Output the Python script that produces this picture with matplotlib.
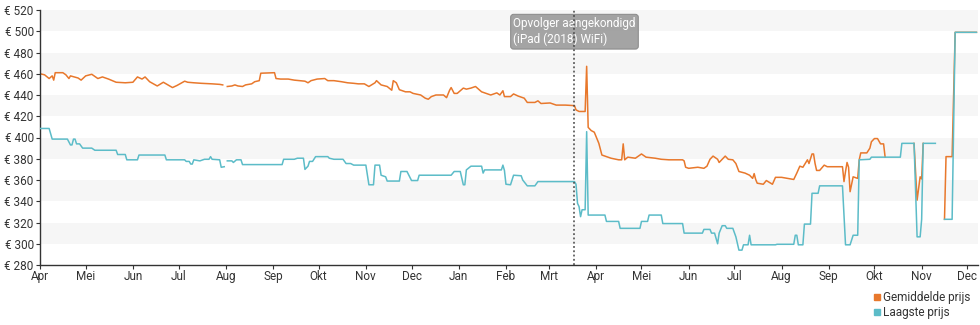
import numpy as np
import pandas as pd
import matplotlib
matplotlib.use("Agg")
import matplotlib.pyplot as plt
import matplotlib.dates as mdates
from matplotlib.lines import Line2D

plt.rcParams['font.family'] = ['Roboto', 'DejaVu Sans']

# gemiddelde prijs (oranje)
avg_dates = [
    "2017-04-01", "2017-04-04", "2017-04-07", "2017-04-09", "2017-04-10", "2017-04-11", "2017-04-16", "2017-04-18",
    "2017-04-20", "2017-04-21", "2017-04-26", "2017-04-28", "2017-05-01", "2017-05-05", "2017-05-09", "2017-05-12",
    "2017-05-16", "2017-05-21", "2017-05-27", "2017-06-01", "2017-06-04", "2017-06-07", "2017-06-09", "2017-06-12",
    "2017-06-17", "2017-06-21", "2017-06-24", "2017-06-27", "2017-06-30", "2017-07-05", "2017-07-07", "2017-07-11",
    "2017-07-16", "2017-07-23", "2017-07-28", "2017-07-30", "2017-08-01", "2017-08-02", "2017-08-05", "2017-08-07",
    "2017-08-09", "2017-08-12", "2017-08-14", "2017-08-18", "2017-08-20", "2017-08-23", "2017-08-24", "2017-09-02",
    "2017-09-03", "2017-09-06", "2017-09-11", "2017-09-15", "2017-09-22", "2017-09-24", "2017-09-26", "2017-09-30",
    "2017-10-05", "2017-10-07", "2017-10-11", "2017-10-16", "2017-10-20", "2017-10-24", "2017-10-27", "2017-10-31",
    "2017-11-03", "2017-11-07", "2017-11-08", "2017-11-11", "2017-11-15", "2017-11-18", "2017-11-19", "2017-11-21",
    "2017-11-23", "2017-11-27", "2017-11-30", "2017-12-02", "2017-12-07", "2017-12-10", "2017-12-12", "2017-12-14",
    "2017-12-17", "2017-12-22", "2017-12-24", "2017-12-26", "2017-12-27", "2017-12-29", "2017-12-31", "2018-01-04",
    "2018-01-06", "2018-01-09", "2018-01-12", "2018-01-16", "2018-01-19", "2018-01-22", "2018-01-26", "2018-01-28",
    "2018-01-30", "2018-01-31", "2018-02-04", "2018-02-06", "2018-02-09", "2018-02-13", "2018-02-15", "2018-02-20",
    "2018-02-22", "2018-02-24", "2018-03-02", "2018-03-06", "2018-03-12", "2018-03-18", "2018-03-19", "2018-03-21",
    "2018-03-25", "2018-03-26", "2018-03-27", "2018-03-29", "2018-03-31", "2018-04-03", "2018-04-05", "2018-04-08",
    "2018-04-11", "2018-04-16", "2018-04-18", "2018-04-19", "2018-04-20", "2018-04-22", "2018-04-27", "2018-05-01",
    "2018-05-04", "2018-05-10", "2018-05-14", "2018-05-19", "2018-05-28", "2018-05-29", "2018-05-30", "2018-06-01",
    "2018-06-07", "2018-06-11", "2018-06-13", "2018-06-15", "2018-06-17", "2018-06-20", "2018-06-21", "2018-06-23",
    "2018-06-25", "2018-06-27", "2018-06-30", "2018-07-02", "2018-07-04", "2018-07-08", "2018-07-11", "2018-07-13",
    "2018-07-14", "2018-07-15", "2018-07-16", "2018-07-20", "2018-07-22", "2018-07-26", "2018-07-28", "2018-08-01",
    "2018-08-09", "2018-08-11", "2018-08-13", "2018-08-15", "2018-08-18", "2018-08-19", "2018-08-21", "2018-08-22",
    "2018-08-23", "2018-08-24", "2018-08-26", "2018-08-29", "2018-08-31", "2018-09-10", "2018-09-11", "2018-09-12",
    "2018-09-13", "2018-09-14", "2018-09-15", "2018-09-17", "2018-09-20", "2018-09-21", "2018-09-22", "2018-09-26",
    "2018-09-28", "2018-09-29", "2018-10-01", "2018-10-03", "2018-10-05", "2018-10-07", "2018-10-08", "2018-10-15",
    "2018-10-27", "2018-10-29", "2018-10-30", "2018-10-31", "2018-11-01", "2018-11-02", "2018-11-06",
    "2018-11-16", "2018-11-17", "2018-11-21", "2018-11-23", "2018-12-07",
]
avg_prices = [
    460, 459, 455.5, 458, 454, 461, 461, 459,
    455.5, 458, 456, 454, 458, 459.5, 455.5, 457,
    455, 452, 451.5, 452, 457, 455, 457, 452.5,
    448.5, 452, 449.5, 447, 449, 453, 452, 451.5,
    451, 450.5, 450, 449.5, None, 448, 448.5, 449.5,
    448.5, 448, 449.5, 450.5, 452.5, 453.5, 460.5, 461,
    455.5, 455, 455, 454, 453, 451.5, 453.5, 455,
    455.5, 453.5, 453.5, 452.5, 451.5, 451, 450.5, 450.5,
    448, 451.5, 453.5, 449.5, 448, 444.5, 453.5, 451.5,
    445, 443, 443, 441.5, 440, 437, 436, 438.5,
    440, 440, 437.5, 444.5, 447, 441.5, 441.5, 446.5,
    445.5, 446.5, 448, 443, 441.5, 440, 442, 440,
    444, 438.5, 438.5, 441, 439, 437, 433, 433,
    434.5, 432, 432.5, 430.5, 430.5, 430, 426, 424.5,
    424.5, 467, 409.5, 406.5, 405, 394.5, 383.5, 382,
    380.5, 379, 379, 394, 379, 381.5, 380.5, 384.5,
    381.5, 380.5, 379.5, 379, 379, 378, 372, 371,
    372, 371, 373, 379.5, 382.5, 379.5, 376.5, 379.5,
    382.5, 379.5, 379, 375.5, 368, 366.5, 364.5, 361.5,
    366, 360.5, 357, 356, 359.5, 356, 362.5, 362.5,
    360.5, 366.5, 373, 372, 379, 375.5, 384.5, 384.5,
    375.5, 369, 369, 374, 372.5, 372.5, 358.5, 368,
    376.5, 372, 349, 363, 361.5, 379, 385.5, 385.5,
    390, 396, 399, 399, 394, 394, 381.5, None,
    394.5, 341, 352, 363, 361, 394.5, None,
    323, 382, 382, 499, 499,
]

# laagste prijs (blauw)
low_dates = [
    "2017-04-01", "2017-04-07", "2017-04-09", "2017-04-19", "2017-04-21", "2017-04-22", "2017-04-23", "2017-04-24",
    "2017-04-25", "2017-04-27", "2017-04-28", "2017-04-29", "2017-05-05", "2017-05-07", "2017-05-21", "2017-05-22",
    "2017-05-27", "2017-05-28", "2017-06-04", "2017-06-05", "2017-06-22", "2017-06-23", "2017-07-05", "2017-07-06",
    "2017-07-08", "2017-07-09", "2017-07-10", "2017-07-11", "2017-07-15", "2017-07-18", "2017-07-21", "2017-07-22",
    "2017-07-23", "2017-07-28", "2017-07-29", "2017-07-31", "2017-08-01", "2017-08-02", "2017-08-05", "2017-08-06",
    "2017-08-08", "2017-08-11", "2017-08-12", "2017-09-07", "2017-09-08", "2017-09-15", "2017-09-17", "2017-09-21",
    "2017-09-22", "2017-09-24", "2017-09-25", "2017-09-27", "2017-09-29", "2017-10-07", "2017-10-08", "2017-10-11",
    "2017-10-17", "2017-10-19", "2017-10-22", "2017-10-24", "2017-11-01", "2017-11-03", "2017-11-06", "2017-11-07",
    "2017-11-10", "2017-11-11", "2017-11-14", "2017-11-15", "2017-11-23", "2017-11-24", "2017-11-28", "2017-12-01",
    "2017-12-05", "2017-12-06", "2017-12-27", "2017-12-29", "2018-01-02", "2018-01-04", "2018-01-05", "2018-01-06",
    "2018-01-09", "2018-01-16", "2018-01-17", "2018-01-18", "2018-01-29", "2018-01-30", "2018-01-31", "2018-02-01",
    "2018-02-04", "2018-02-06", "2018-02-11", "2018-02-12", "2018-02-15", "2018-02-20", "2018-02-22", "2018-03-18",
    "2018-03-19", "2018-03-20", "2018-03-21", "2018-03-22", "2018-03-23", "2018-03-25", "2018-03-26", "2018-03-27",
    "2018-04-07", "2018-04-08", "2018-04-16", "2018-04-17", "2018-04-30", "2018-05-01", "2018-05-05", "2018-05-06",
    "2018-05-14", "2018-05-15", "2018-05-28", "2018-05-29", "2018-06-10", "2018-06-11", "2018-06-15", "2018-06-16",
    "2018-06-18", "2018-06-20", "2018-06-21", "2018-06-23", "2018-06-25", "2018-06-26", "2018-06-30", "2018-07-02",
    "2018-07-04", "2018-07-06", "2018-07-07", "2018-07-10", "2018-07-11", "2018-07-12", "2018-07-28", "2018-07-29",
    "2018-08-09", "2018-08-10", "2018-08-11", "2018-08-12", "2018-08-15", "2018-08-16", "2018-08-20", "2018-08-21",
    "2018-08-25", "2018-08-26", "2018-09-10", "2018-09-12", "2018-09-15", "2018-09-17", "2018-09-20", "2018-09-21",
    "2018-09-28", "2018-09-29", "2018-10-18", "2018-10-19", "2018-10-27", "2018-10-29", "2018-10-31", "2018-11-01",
    "2018-11-02", "2018-11-10", "2018-11-13", "2018-11-16", "2018-11-21", "2018-11-23", "2018-12-07",
]
low_prices = [
    408.5, 408.5, 398.5, 398.5, 393, 393, 398.5, 398.5,
    394, 394, 392, 390, 390, 388, 388, 384,
    384, 379, 379, 383.5, 383.5, 379, 379, 377.5,
    377.5, 375, 375, 379, 378, 379.5, 379.5, 382,
    379.5, 379, 372, 372.5, None, 378, 378, 376.5,
    379, 379, 374.5, 374.5, 379.5, 379.5, 380.5, 380.5,
    370, 373, 377.5, 377.5, 382, 382, 380.5, 379.5,
    379.5, 375.5, 375.5, 374, 374, 355.5, 355.5, 374,
    374, 364.5, 363, 359, 359, 368, 368, 359.5,
    359.5, 364.5, 364.5, 368, 368, 355.5, 355.5, 369.5,
    373, 373, 366.5, 369.5, 369.5, 374, 369, 356,
    355.5, 364.5, 364, 360, 354.5, 354.5, 358.5, 358.5,
    356, 338, 335, 325.5, 332, 332, 405.5, 327,
    327, 321, 321, 314.5, 314.5, 321, 321, 327,
    327, 319, 319, 310, 310, 313.5, 313.5, 310,
    310, 300, 310, 317, 317, 314.5, 314.5, 306.5,
    294, 294, 299, 299, 308, 299, 299, 299.5,
    299.5, 308, 308, 299, 299, 318.5, 318.5, 347.5,
    347.5, 354.5, 354.5, 299, 299, 308, 308, 379,
    379.5, 381.5, 381.5, 394.5, 394.5, 306.5, 306.5, 323,
    394.5, 394.5, None, 323, 323, 499, 499,
]

month_names = ["Jan", "Feb", "Mrt", "Apr", "Mei", "Jun", "Jul", "Aug", "Sep", "Okt", "Nov", "Dec"]
event_date = "2018-03-18"
event_label = "Opvolger aangekondigd\n(iPad (2018) WiFi)"
series_labels = ["Gemiddelde prijs", "Laagste prijs"]

orange = "#e8782c"
teal = "#5cbcc8"
text_col = "#333333"

fig = plt.figure(figsize=(9.8, 3.25), dpi=100)
ax = fig.add_axes([40 / 980, 60 / 325, 938 / 980, 255 / 325])

# grijze banden
for lo in range(300, 520, 40):
    ax.axhspan(lo, lo + 20, color="#f6f6f6", lw=0, zorder=0)

ax.plot(pd.to_datetime(avg_dates), np.array(avg_prices, dtype=float), color=orange, lw=1.1, zorder=2)
ax.plot(pd.to_datetime(low_dates), np.array(low_prices, dtype=float), color=teal, lw=1.1, zorder=3)

ev = pd.Timestamp(event_date)
ax.axvline(ev, color="#444444", ls=(0, (1.2, 1.6)), lw=1.1, zorder=6)
ax.annotate(event_label, xy=(ev, 1), xycoords=("data", "axes fraction"),
            xytext=(0, -5), textcoords="offset points", ha="center", va="top", multialignment="left",
            color="white", fontsize=8.5, linespacing=1.3, zorder=5,
            bbox=dict(boxstyle="round,pad=0.22,rounding_size=0.25", fc="#9c9c9c", ec="#8a8a8a", lw=0.8, alpha=0.92))

ax.set_ylim(280, 520)
ax.set_yticks(range(280, 521, 20))
ax.set_yticklabels([f"€ {v}" for v in range(280, 521, 20)])
ax.set_xlim(pd.Timestamp("2017-04-01"), pd.Timestamp("2018-12-08"))
ax.xaxis.set_major_locator(mdates.MonthLocator())
ax.xaxis.set_major_formatter(plt.FuncFormatter(lambda v, p: month_names[mdates.num2date(v).month - 1]))

for s in ["top", "right"]:
    ax.spines[s].set_visible(False)
for s in ["left", "bottom"]:
    ax.spines[s].set_color(text_col)
    ax.spines[s].set_linewidth(1)
ax.tick_params(axis="both", colors=text_col, labelsize=8.5, length=3, width=0.8, pad=1.5)
ax.tick_params(axis="x", pad=0.5)
ax.set_facecolor("white")

handles = [Line2D([], [], marker="s", ls="", color=orange, markersize=4.5),
           Line2D([], [], marker="s", ls="", color=teal, markersize=4.5)]
fig.legend(handles, series_labels, loc="lower right", bbox_to_anchor=(1.0, -0.01), frameon=False,
           fontsize=8.5, handletextpad=0.0, labelspacing=0.15, borderpad=0.3, handlelength=1.0,
           labelcolor=text_col)

fig.savefig("out.png", dpi=100)
